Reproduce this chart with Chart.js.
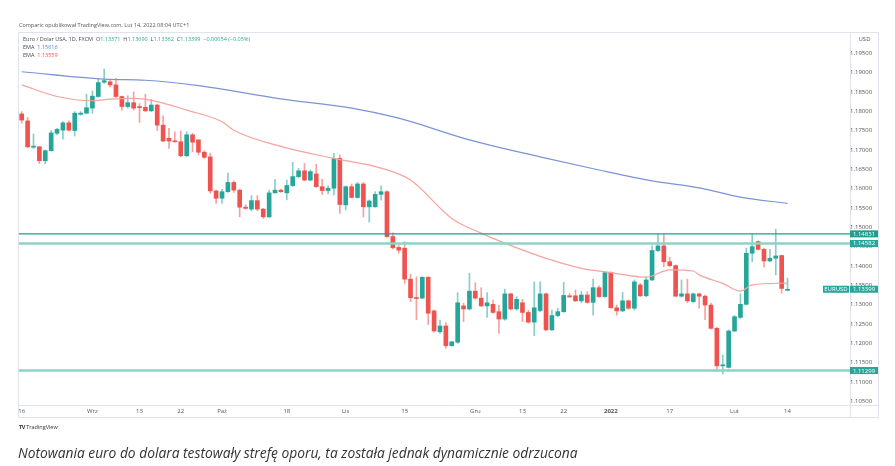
<!DOCTYPE html>
<html>
<head>
<meta charset="utf-8">
<script src="https://cdn.jsdelivr.net/npm/chart.js@4.4.1/dist/chart.umd.min.js"></script>
<style>
  html, body { margin: 0; padding: 0; background: #fff; }
  body { width: 895px; height: 466px; position: relative; overflow: hidden; font-family: 'Open Sans', sans-serif; }
  canvas { position: absolute; left: 0; top: 0; }
  .t { position: absolute; white-space: nowrap; font-size: 5.5px; line-height: 8px; color: #4a4a4a; }
  .up { color: #26a69a; }
  .blue { color: #5b7fd0; }
  .red { color: #ef5350; }
  #caption { position: absolute; left: 18px; top: 443px; font-size: 13.8px; font-style: italic; color: #333; white-space: nowrap; }
</style>
</head>
<body>
<canvas id="chart" width="895" height="466"></canvas>
<div class="t" style="left:19px;top:21px;color:#555">Comparic opublikował TradingView.com, Lut 14, 2022 08:04 UTC+1</div>
<div class="t" style="left:23px;top:35px">Euro / Dolar USA, 1D, FXCM &nbsp;O<span class="up">1.13371</span> &nbsp;H<span class="up">1.13690</span> &nbsp;L<span class="up">1.13362</span> &nbsp;C<span class="up">1.13399</span> &nbsp;<span class="up">−0.00054 (−0.05%)</span></div>
<div class="t" style="left:23px;top:43px">EMA &nbsp;<span class="blue">1.15616</span></div>
<div class="t" style="left:23px;top:51px">EMA &nbsp;<span class="red">1.13559</span></div>
<div class="t" style="left:19px;top:423px;color:#333"><b style="letter-spacing:-0.5px">TV</b> TradingView</div>
<div id="caption">Notowania euro do dolara testowały strefę oporu, ta została jednak dynamicznie odrzucona</div>

<script>
// daily EUR/USD candles, 16 Aug 2021 .. 14 Feb 2022 (one per weekday)
const opens = [
  1.1793, 1.1775, 1.1707, 1.1708, 1.1672, 1.1698, 1.1743, 1.1751, 1.1770, 1.1750,
  1.1792, 1.1795, 1.1808, 1.1838, 1.1875, 1.1876, 1.1868, 1.1838, 1.1812, 1.1822,
  1.1812, 1.1810, 1.1801, 1.1816, 1.1764, 1.1730, 1.1723, 1.1721, 1.1685, 1.1739,
  1.1726, 1.1694, 1.1682, 1.1594, 1.1575, 1.1592, 1.1616, 1.1596, 1.1552, 1.1547,
  1.1569, 1.1547, 1.1527, 1.1589, 1.1596, 1.1589, 1.1608, 1.1631, 1.1646, 1.1622,
  1.1638, 1.1605, 1.1595, 1.1601, 1.1678, 1.1558, 1.1605, 1.1577, 1.1612, 1.1553,
  1.1553, 1.1585, 1.1592, 1.1476, 1.1448, 1.1446, 1.1366, 1.1318, 1.1317, 1.1371,
  1.1284, 1.1230, 1.1245, 1.1194, 1.1203, 1.1297, 1.1289, 1.1335, 1.1317, 1.1297,
  1.1301, 1.1282, 1.1263, 1.1328, 1.1289, 1.1305, 1.1280, 1.1255, 1.1285, 1.1328,
  1.1235, 1.1272, 1.1282, 1.1323, 1.1323, 1.1310, 1.1325, 1.1306, 1.1344, 1.1321,
  1.1383, 1.1292, 1.1284, 1.1310, 1.1291, 1.1351, 1.1323, 1.1364, 1.1440, 1.1452,
  1.1411, 1.1401, 1.1322, 1.1328, 1.1308, 1.1328, 1.1322, 1.1299, 1.1239, 1.1142,
  1.1138, 1.1232, 1.1267, 1.1301, 1.1433, 1.1463, 1.1443, 1.1413, 1.1420, 1.1427,
  1.13371
];
const highs = [
  1.1799, 1.1784, 1.1741, 1.1709, 1.1700, 1.1750, 1.1756, 1.1773, 1.1775, 1.1799,
  1.1799, 1.1844, 1.1852, 1.1885, 1.1909, 1.1883, 1.1885, 1.1839, 1.1840, 1.1850,
  1.1820, 1.1844, 1.1831, 1.1818, 1.1788, 1.1756, 1.1747, 1.1749, 1.1747, 1.1743,
  1.1726, 1.1698, 1.1691, 1.1596, 1.1598, 1.1640, 1.1620, 1.1599, 1.1558, 1.1582,
  1.1582, 1.1549, 1.1596, 1.1624, 1.1598, 1.1622, 1.1668, 1.1652, 1.1665, 1.1648,
  1.1663, 1.1624, 1.1607, 1.1691, 1.1687, 1.1607, 1.1612, 1.1616, 1.1616, 1.1571,
  1.1592, 1.1607, 1.1594, 1.1486, 1.1454, 1.1463, 1.1379, 1.1372, 1.1372, 1.1372,
  1.1286, 1.1260, 1.1254, 1.1206, 1.1331, 1.1304, 1.1381, 1.1357, 1.1344, 1.1331,
  1.1312, 1.1299, 1.1340, 1.1330, 1.1321, 1.1314, 1.1286, 1.1359, 1.1359, 1.1330,
  1.1286, 1.1291, 1.1358, 1.1329, 1.1338, 1.1334, 1.1334, 1.1366, 1.1349, 1.1385,
  1.1385, 1.1299, 1.1332, 1.1312, 1.1364, 1.1355, 1.1372, 1.1452, 1.1482, 1.1482,
  1.1422, 1.1403, 1.1364, 1.1366, 1.1330, 1.1330, 1.1325, 1.1304, 1.1242, 1.1170,
  1.1235, 1.1272, 1.1328, 1.1446, 1.1482, 1.1465, 1.1446, 1.1443, 1.1495, 1.1428,
  1.13690
];
const lows = [
  1.1769, 1.1706, 1.1704, 1.1665, 1.1664, 1.1697, 1.1739, 1.1728, 1.1749, 1.1736,
  1.1790, 1.1793, 1.1795, 1.1836, 1.1872, 1.1863, 1.1835, 1.1803, 1.1808, 1.1803,
  1.1771, 1.1799, 1.1799, 1.1750, 1.1721, 1.1704, 1.1720, 1.1682, 1.1682, 1.1695,
  1.1687, 1.1678, 1.1588, 1.1562, 1.1562, 1.1590, 1.1590, 1.1527, 1.1547, 1.1542,
  1.1543, 1.1523, 1.1525, 1.1588, 1.1590, 1.1571, 1.1605, 1.1628, 1.1620, 1.1620,
  1.1603, 1.1585, 1.1586, 1.1584, 1.1536, 1.1545, 1.1576, 1.1575, 1.1527, 1.1513,
  1.1552, 1.1571, 1.1474, 1.1444, 1.1433, 1.1355, 1.1308, 1.1261, 1.1315, 1.1249,
  1.1229, 1.1226, 1.1187, 1.1193, 1.1200, 1.1256, 1.1286, 1.1314, 1.1295, 1.1267,
  1.1278, 1.1226, 1.1260, 1.1286, 1.1286, 1.1256, 1.1252, 1.1220, 1.1282, 1.1233,
  1.1233, 1.1269, 1.1280, 1.1319, 1.1308, 1.1305, 1.1304, 1.1273, 1.1319, 1.1319,
  1.1291, 1.1273, 1.1282, 1.1288, 1.1286, 1.1321, 1.1321, 1.1362, 1.1437, 1.1398,
  1.1398, 1.1321, 1.1319, 1.1305, 1.1305, 1.1291, 1.1261, 1.1237, 1.1127, 1.1121,
  1.1136, 1.1230, 1.1265, 1.1299, 1.1411, 1.1441, 1.1397, 1.1411, 1.1377, 1.1330,
  1.13362
];
const closes = [
  1.1777, 1.1708, 1.1708, 1.1672, 1.1698, 1.1744, 1.1753, 1.1770, 1.1751, 1.1795,
  1.1795, 1.1809, 1.1839, 1.1874, 1.1879, 1.1868, 1.1838, 1.1812, 1.1822, 1.1808,
  1.1809, 1.1801, 1.1816, 1.1764, 1.1723, 1.1723, 1.1721, 1.1685, 1.1739, 1.1720,
  1.1694, 1.1681, 1.1594, 1.1575, 1.1592, 1.1616, 1.1596, 1.1552, 1.1549, 1.1569,
  1.1547, 1.1527, 1.1589, 1.1596, 1.1592, 1.1608, 1.1631, 1.1646, 1.1622, 1.1644,
  1.1605, 1.1595, 1.1601, 1.1678, 1.1559, 1.1605, 1.1577, 1.1612, 1.1553, 1.1568,
  1.1585, 1.1592, 1.1476, 1.1447, 1.1441, 1.1366, 1.1318, 1.1316, 1.1371, 1.1278,
  1.1232, 1.1245, 1.1194, 1.1204, 1.1305, 1.1289, 1.1335, 1.1317, 1.1297, 1.1305,
  1.1280, 1.1263, 1.1328, 1.1289, 1.1314, 1.1280, 1.1255, 1.1292, 1.1328, 1.1235,
  1.1272, 1.1282, 1.1324, 1.1320, 1.1310, 1.1325, 1.1306, 1.1344, 1.1321, 1.1383,
  1.1292, 1.1284, 1.1310, 1.1291, 1.1359, 1.1323, 1.1364, 1.1440, 1.1452, 1.1411,
  1.1401, 1.1322, 1.1328, 1.1310, 1.1328, 1.1322, 1.1299, 1.1239, 1.1142, 1.1144,
  1.1232, 1.1269, 1.1301, 1.1433, 1.1450, 1.1443, 1.1413, 1.1420, 1.1426, 1.1342,
  1.13399
];

// EMA lines read at a few candle positions
const emaSlowIdx = [0, 14, 21, 30, 44, 56, 64, 76, 88, 98, 107, 115, 122, 130];
const emaSlowVal = [1.1902, 1.1883, 1.1880, 1.1866, 1.1832, 1.1808, 1.1782, 1.1726, 1.1682, 1.1648, 1.1620, 1.1602, 1.1578, 1.15616];
const emaFastIdx = [0, 6, 12, 15, 19, 23, 28, 34, 36, 44, 53, 61, 66, 73, 78, 82, 88, 95, 100, 106, 110, 114, 115, 119, 122, 124, 130];
const emaFastVal = [1.1868, 1.1838, 1.1827, 1.1831, 1.1833, 1.1825, 1.1803, 1.1773, 1.1751, 1.1709, 1.1678, 1.1653, 1.1622, 1.1523, 1.1485, 1.1459, 1.1425, 1.1394, 1.1383, 1.1371, 1.1390, 1.1387, 1.1377, 1.1355, 1.1335, 1.1351, 1.13559];

// horizontal drawings
const levels = [1.14831, 1.14582, 1.11299];

// axes
const dateTickIdx = [0, 12, 20, 27, 34, 45, 55, 65, 77, 85, 92, 100, 110, 121, 130];
const dateTickLabels = ['16', 'Wrz', '13', '22', 'Paź', '18', 'Lis', '15', 'Gru', '13', '22', '2022', '17', 'Lut', '14'];
const priceTicks = [1.105, 1.11, 1.115, 1.12, 1.125, 1.13, 1.135, 1.14, 1.145, 1.15,
                    1.155, 1.16, 1.165, 1.17, 1.175, 1.18, 1.185, 1.19, 1.195];

const X_MIN = -0.63, X_MAX = 140.6;
const Y_MIN = 1.10408, Y_MAX = 1.20047;

const UP = '#26a69a', DOWN = '#ef5350';
const levelStyle = [
  { color: '#1f9e8d', width: 1.3, tag: '#1f9e8d' },
  { color: '#8fd1c7', width: 2.4, tag: '#26a69a' },
  { color: '#8fd1c7', width: 2.4, tag: '#26a69a' }
];

const isUp = opens.map((o, i) => closes[i] >= o);
const bodies = opens.map((o, i) => ({ x: i, y: [o, closes[i]] }));
const wicks = lows.map((l, i) => ({ x: i, y: [l, highs[i]] }));

const frameAndTags = {
  id: 'frameAndTags',
  afterDraw(chart) {
    const { ctx, chartArea: a, scales: { x, y } } = chart;
    ctx.save();
    // panel frame
    ctx.strokeStyle = '#e0e3eb';
    ctx.lineWidth = 1;
    ctx.strokeRect(a.left + 0.5, a.top + 0.5, y.right - a.left - 1, x.bottom - a.top - 1);
    ctx.beginPath();
    ctx.moveTo(a.right + 0.5, a.top); ctx.lineTo(a.right + 0.5, x.bottom);
    ctx.moveTo(a.left, a.bottom + 0.5); ctx.lineTo(y.right, a.bottom + 0.5);
    ctx.stroke();

    ctx.font = '6px "Open Sans"';
    ctx.textAlign = 'center';
    ctx.textBaseline = 'middle';
    const tag = (x0, x1, v, bg, txt) => {
      const py = y.getPixelForValue(v);
      ctx.fillStyle = bg;
      ctx.fillRect(x0, py - 3.5, x1 - x0, 7);
      ctx.fillStyle = '#fff';
      ctx.fillText(txt, (x0 + x1) / 2, py + 0.3);
    };
    levels.forEach((v, k) => tag(a.right, y.right - 1, v, levelStyle[k].tag, v.toFixed(5)));
    const last = closes[closes.length - 1];
    tag(a.right - 27, a.right - 1, last, UP, 'EURUSD');
    tag(a.right, y.right - 1, last, UP, last.toFixed(5));

    // currency label
    ctx.fillStyle = '#fff';
    ctx.fillRect(a.right + 3, a.top + 3, y.right - a.right - 6, 8);
    ctx.fillStyle = '#555';
    ctx.fillText('USD', (a.right + y.right) / 2, a.top + 7);
    ctx.restore();
  }
};

new Chart(document.getElementById('chart'), {
  type: 'bar',
  data: {
    datasets: [
      {
        label: 'wicks',
        data: wicks,
        backgroundColor: isUp.map(u => u ? 'rgba(38,166,154,0.55)' : 'rgba(239,83,80,0.55)'),
        barThickness: 1,
        grouped: false,
        order: 4
      },
      {
        label: 'bodies',
        data: bodies,
        backgroundColor: isUp.map(u => u ? UP : DOWN),
        barThickness: 4,
        minBarLength: 1,
        grouped: false,
        order: 3
      },
      {
        type: 'line',
        label: 'EMA slow',
        data: emaSlowIdx.map((i, k) => ({ x: i, y: emaSlowVal[k] })),
        borderColor: '#7a94d6',
        borderWidth: 1.2,
        pointRadius: 0,
        cubicInterpolationMode: 'monotone',
        order: 2
      },
      {
        type: 'line',
        label: 'EMA fast',
        data: emaFastIdx.map((i, k) => ({ x: i, y: emaFastVal[k] })),
        borderColor: '#f5a39c',
        borderWidth: 1.2,
        pointRadius: 0,
        cubicInterpolationMode: 'monotone',
        order: 2
      },
      ...levels.map((v, k) => ({
        type: 'line',
        label: 'level ' + v,
        data: [{ x: X_MIN, y: v }, { x: X_MAX, y: v }],
        borderColor: levelStyle[k].color,
        borderWidth: levelStyle[k].width,
        pointRadius: 0,
        order: 1
      }))
    ]
  },
  options: {
    responsive: false,
    animation: false,
    layout: { padding: { left: 18, top: 32, right: 16, bottom: 48 } },
    plugins: { legend: { display: false }, tooltip: { enabled: false } },
    scales: {
      x: {
        type: 'linear',
        min: X_MIN,
        max: X_MAX,
        offset: false,
        grid: { display: false, drawTicks: false, tickLength: 0 },
        border: { display: false },
        afterBuildTicks: s => { s.ticks = dateTickIdx.map(v => ({ value: v })); },
        afterFit: s => { s.height = 13; },
        ticks: {
          autoSkip: false,
          maxRotation: 0,
          padding: 3,
          color: '#555',
          font: ctx => ({ family: 'Open Sans', size: 6, weight: (ctx.tick && ctx.tick.value === 100) ? 'bold' : 'normal' }),
          callback: v => dateTickLabels[dateTickIdx.indexOf(v)]
        }
      },
      y: {
        type: 'linear',
        position: 'right',
        min: Y_MIN,
        max: Y_MAX,
        grid: { display: false, drawTicks: false, tickLength: 0 },
        border: { display: false },
        afterBuildTicks: s => { s.ticks = priceTicks.map(v => ({ value: v })); },
        afterFit: s => { s.width = 29; },
        ticks: {
          crossAlign: 'center',
          padding: 0,
          color: '#555',
          font: { family: 'Open Sans', size: 6 },
          callback: v => v.toFixed(5)
        }
      }
    }
  },
  plugins: [frameAndTags]
});
</script>
</body>
</html>
